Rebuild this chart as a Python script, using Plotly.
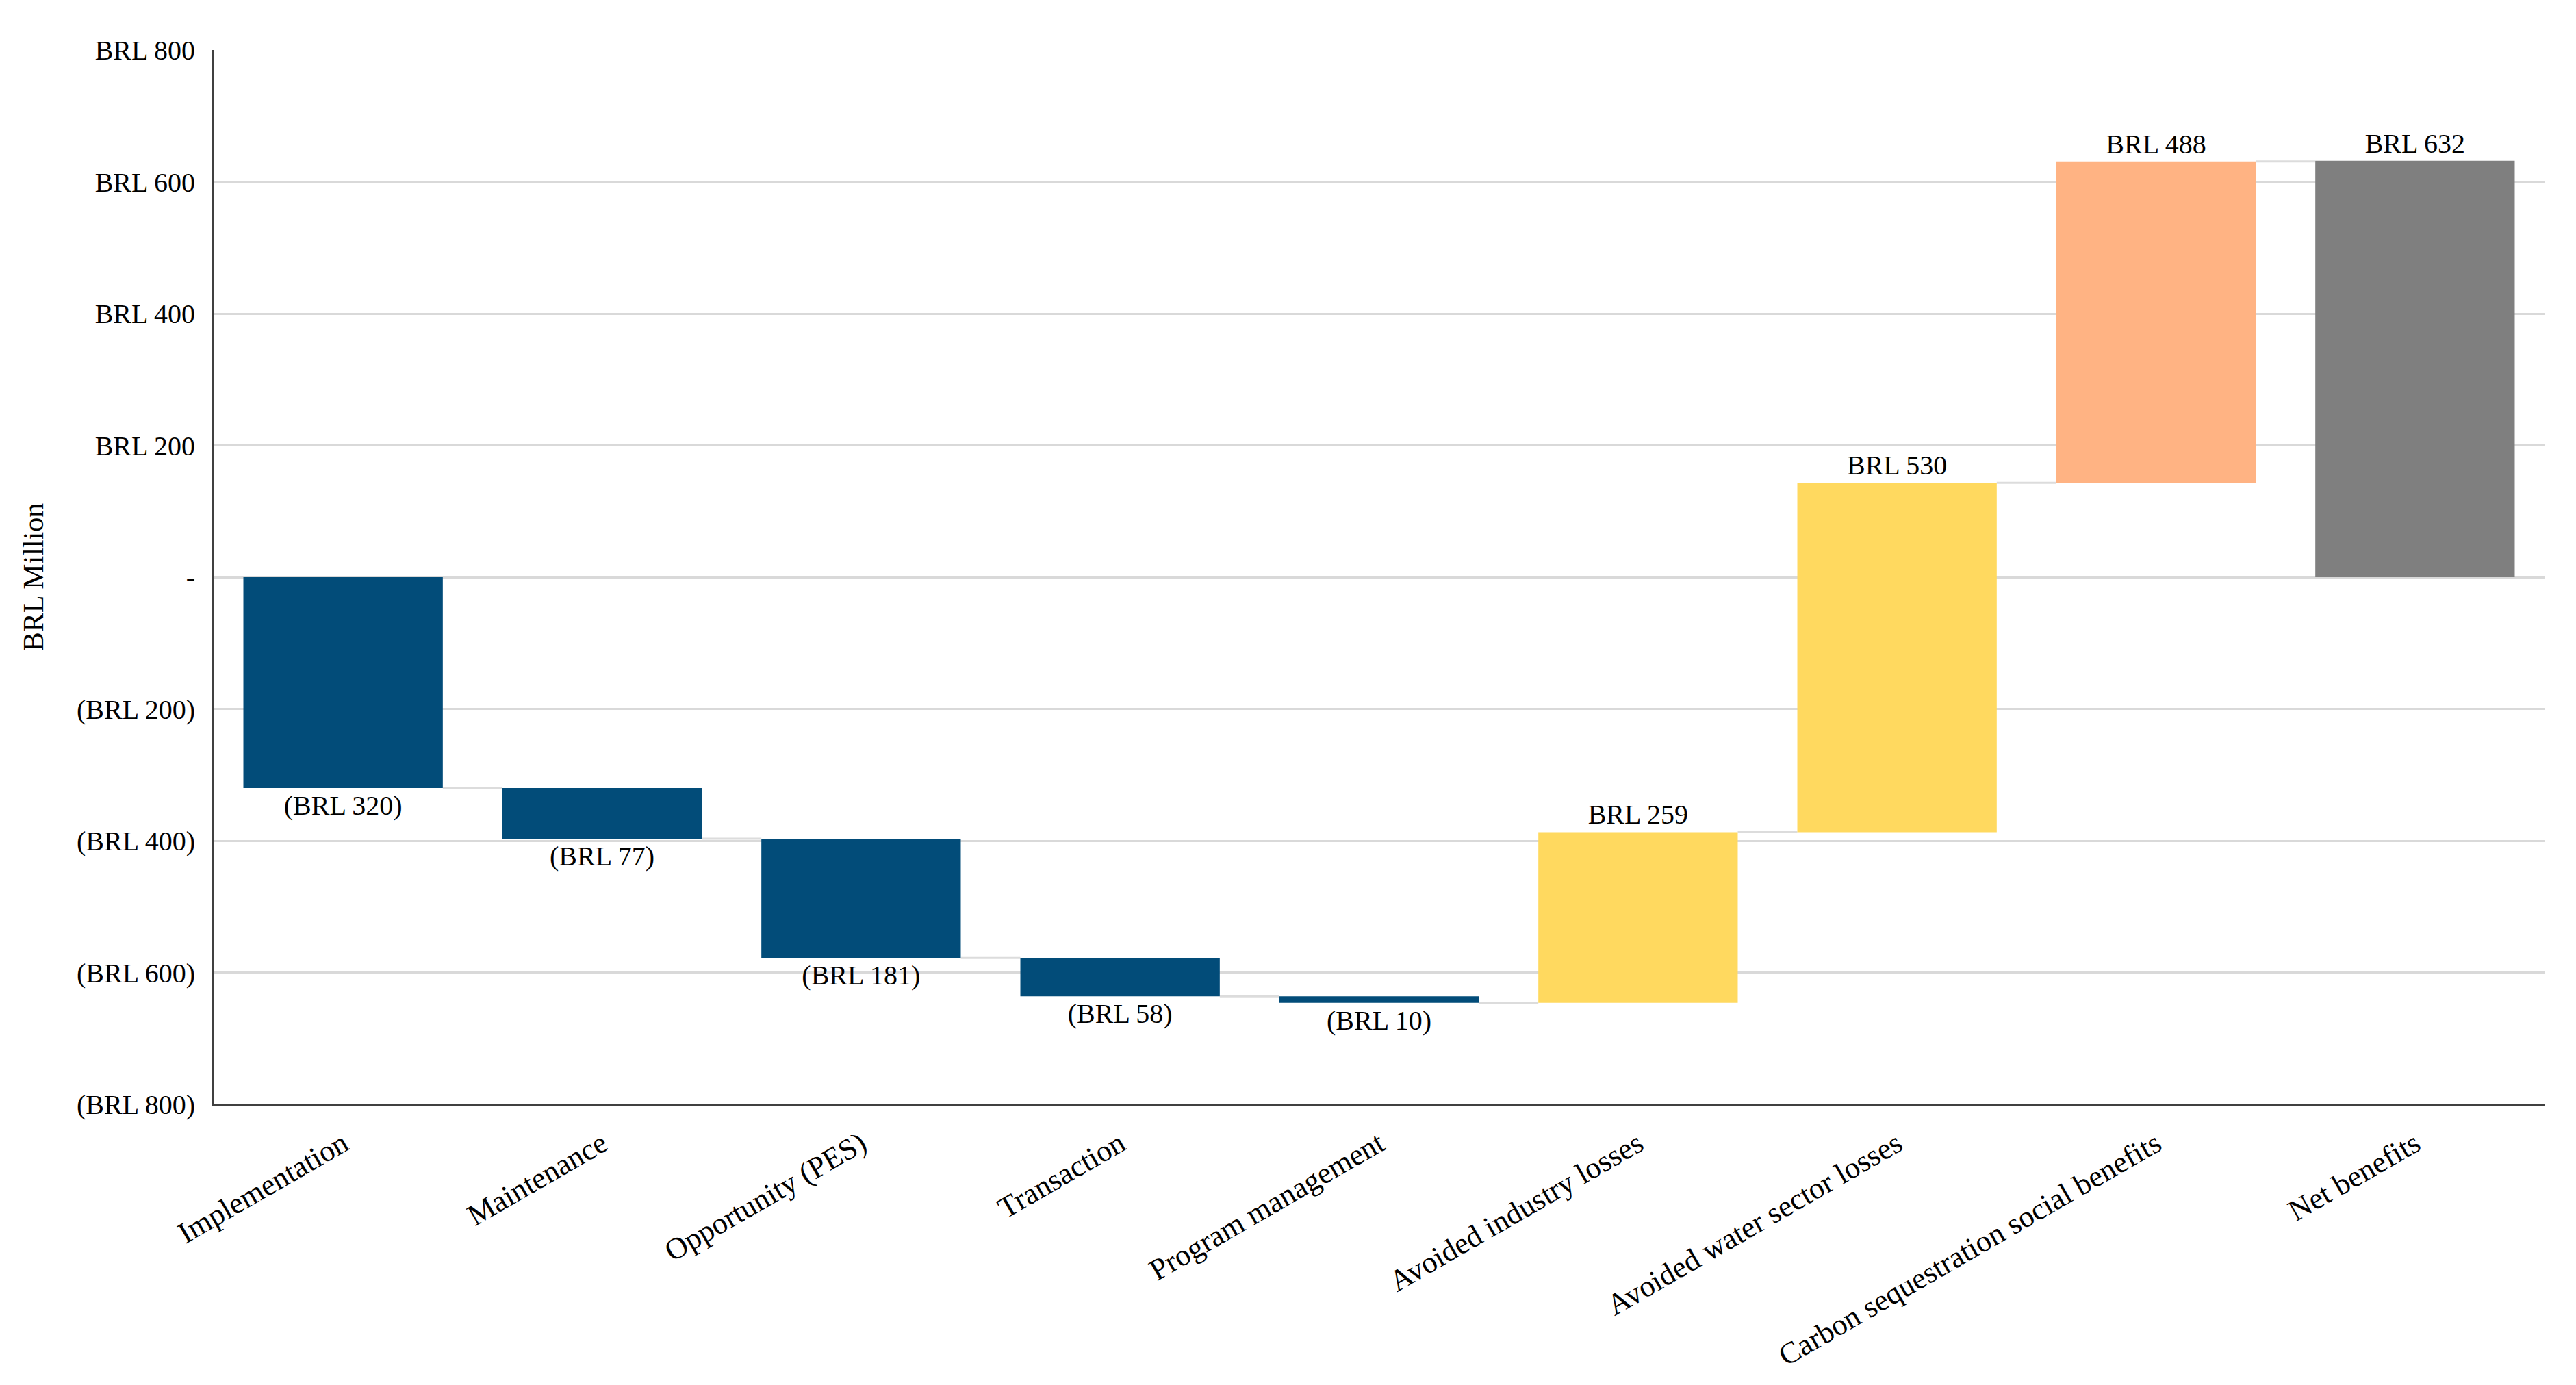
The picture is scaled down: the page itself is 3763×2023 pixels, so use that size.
import plotly.graph_objects as go

categories = [
    "Implementation",
    "Maintenance",
    "Opportunity (PES)",
    "Transaction",
    "Program management",
    "Avoided industry losses",
    "Avoided water sector losses",
    "Carbon sequestration social benefits",
    "Net benefits",
]
changes = [-320, -77, -181, -58, -10, 259, 530, 488]
net_benefits = 632
bar_colors = ["#024C79", "#024C79", "#024C79", "#024C79", "#024C79",
              "#FFD95F", "#FFD95F", "#FFB383", "#7F7F7F"]

y_tickvals = [800, 600, 400, 200, 0, -200, -400, -600, -800]
y_ticktext = ["BRL 800", "BRL 600", "BRL 400", "BRL 200", "-",
              "(BRL 200)", "(BRL 400)", "(BRL 600)", "(BRL 800)"]


def fmt(v):
    return f"BRL {abs(v)}" if v > 0 else f"(BRL {abs(v)})"


bases = []
running = 0
for c in changes:
    bases.append(running)
    running += c
bases.append(0)
heights = changes + [net_benefits]
labels = [fmt(v) for v in heights]

FONT = "Liberation Serif"

fig = go.Figure()

# connectors (transparent waterfall provides only the connector lines)
fig.add_trace(go.Waterfall(
    x=categories,
    y=changes + [0],
    measure=["relative"] * len(changes) + ["total"],
    increasing=dict(marker=dict(color="rgba(0,0,0,0)", line=dict(width=0))),
    decreasing=dict(marker=dict(color="rgba(0,0,0,0)", line=dict(width=0))),
    totals=dict(marker=dict(color="rgba(0,0,0,0)", line=dict(width=0))),
    connector=dict(line=dict(color="#DCDCDC", width=3), mode="between"),
    hoverinfo="skip",
    showlegend=False,
))

fig.add_trace(go.Bar(
    x=categories,
    y=heights,
    base=bases,
    marker=dict(color=bar_colors, line=dict(width=0)),
    text=labels,
    textposition="outside",
    textfont=dict(family=FONT, size=40, color="#000000"),
    constraintext="none",
    cliponaxis=False,
    hoverinfo="skip",
    showlegend=False,
))

fig.update_layout(
    width=3763,
    height=2023,
    margin=dict(l=304, r=54, t=65, b=418),
    paper_bgcolor="white",
    plot_bgcolor="white",
    bargap=0.23,
    waterfallgap=0.23,
    barmode="overlay",
    font=dict(family=FONT, size=40, color="#000000"),
    xaxis=dict(
        type="category",
        tickangle=-30,
        showline=True,
        linecolor="#404040",
        linewidth=3,
        showgrid=False,
        ticks="",
        ticklabelstandoff=12,
        tickfont=dict(family=FONT, size=44, color="#000000"),
    ),
    yaxis=dict(
        range=[-800, 800],
        tickvals=y_tickvals,
        ticktext=y_ticktext,
        showline=True,
        linecolor="#404040",
        linewidth=3,
        showgrid=True,
        gridcolor="#D9D9D9",
        gridwidth=3,
        zeroline=False,
        ticks="",
        ticklabelstandoff=16,
        tickfont=dict(family=FONT, size=40, color="#000000"),
        title=dict(text="BRL Million", standoff=36,
                   font=dict(family=FONT, size=42, color="#000000")),
    ),
)

fig.write_html("out.html")
